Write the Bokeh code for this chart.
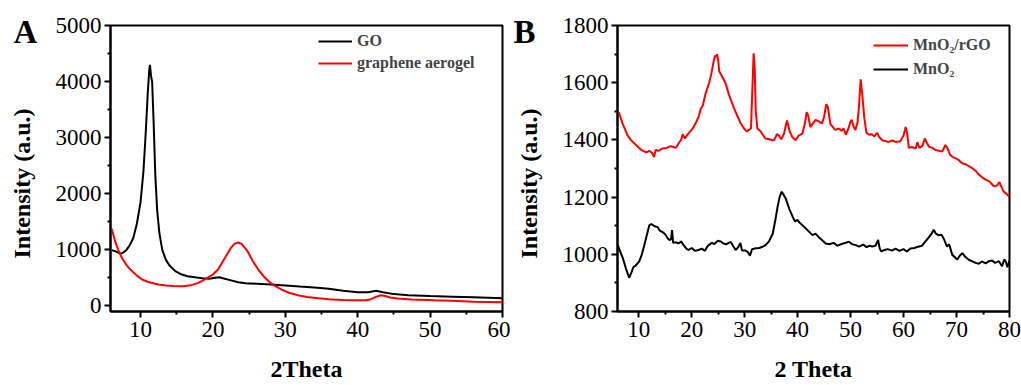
from bokeh.plotting import figure
from bokeh.layouts import row
from bokeh.models import Legend, LegendItem, FixedTicker, Title, Range1d
from bokeh.embed import file_html
from bokeh.resources import INLINE

# ---------------- Panel A data ----------------
go_x = [6.0, 6.5, 7.0, 7.4, 8.0, 8.5, 9.0, 9.5, 10.0, 10.4, 10.7, 11.0, 11.2, 11.3, 11.45, 11.6,
        11.8, 12.05, 12.3, 12.6, 13.0, 13.5, 14.0, 14.8, 15.5, 16.5, 17.5, 18.5, 19.5, 20.3,
        20.9, 21.5, 22.5, 23.5, 24.5, 26, 28, 30, 32, 34, 36, 38, 40, 41.5, 42.5, 43.5, 45,
        47, 50, 53, 56, 58, 60]
go_y = [995, 975, 945, 935, 990, 1080, 1210, 1470, 1850, 2400, 3050, 3800, 4200, 4300, 4100, 4000,
        3300, 2300, 1700, 1300, 1000, 820, 720, 620, 570, 530, 510, 495, 485, 500,
        510, 490, 455, 420, 405, 395, 380, 365, 345, 330, 305, 270, 245, 245, 270, 245, 210,
        190, 175, 165, 155, 145, 135]

ga_x = [6.0, 6.5, 7.0, 7.5, 8.0, 8.5, 9.0, 9.5, 10.2, 11, 12, 12.5, 13.5, 14.5, 15.8, 17, 18, 19,
        20, 20.7, 21.3, 22, 22.5, 23, 23.5, 24, 24.8, 25.5, 26.3, 27, 27.7, 28.5, 29.5, 30.5,
        31.9, 33, 34.6, 36, 37.9, 39.5, 41.1, 41.8, 42.5, 43.2, 43.8, 44.5, 45.5, 47.5, 50.6,
        53, 56, 58, 60]
ga_y = [1380, 1150, 970, 840, 740, 660, 600, 540, 470, 430, 395, 380, 365, 355, 350, 370, 410, 480,
        560, 650, 780, 930, 1040, 1110, 1130, 1100, 970, 800, 640, 530, 440, 360, 290, 235,
        185, 160, 135, 120, 105, 100, 100, 120, 160, 190, 175, 150, 130, 115, 100,
        90, 75, 70, 65]

a_xticks = [10, 20, 30, 40, 50, 60]
a_xminor = [5, 15, 25, 35, 45, 55]
a_yticks = [0, 1000, 2000, 3000, 4000, 5000]
a_yminor = [500, 1500, 2500, 3500, 4500]

# ---------------- Panel B data ----------------
rgo_x = [6.0, 6.3, 7.0, 7.9, 8.5, 9.5, 10.5, 11.4, 12.0, 12.5, 12.9, 13.2, 13.7, 14.5, 15.3, 16.0,
         16.4, 17.0, 17.6, 18.0, 18.3, 18.7, 19.3, 20.2, 20.8, 21.3, 21.7, 22.1, 22.6, 23.3, 23.7,
         24.1, 24.4, 24.6, 24.8, 25.0, 25.2, 25.8, 26.4, 27.0, 27.4, 28.0, 28.6, 29.2, 29.9, 30.4,
         30.8, 31.2, 31.5, 31.7, 31.9, 32.1, 32.4, 33.0, 33.9, 34.5, 35.2, 35.6, 36.1, 36.5, 36.9,
         37.4, 38.0, 38.5, 39.0, 39.6, 40.2, 40.9, 41.4, 41.7, 42.0, 42.4, 42.8, 43.4, 44.0, 44.6,
         45.0, 45.4, 45.7, 46.2, 47.1, 47.8, 48.3, 48.7, 49.1, 49.6, 50.0, 50.2, 50.6, 50.9, 51.3,
         51.6, 51.9, 52.2, 52.6, 53.0, 53.5, 54.0, 54.5, 55.0, 55.4, 56.0, 56.7, 57.2, 57.9, 58.5,
         59.4, 60.0, 60.4, 60.7, 61.0, 61.6, 62.3, 62.6, 63.0, 63.6, 64.0, 64.4, 64.8, 65.4, 66.0,
         66.7, 67.3, 67.9, 68.3, 68.8, 69.3, 69.8, 70.4, 71.0, 71.8, 72.9, 73.6, 74.2, 74.8, 75.4,
         76.2, 77.0, 77.6, 78.1, 78.5, 78.9, 79.4, 80.0]
rgo_y = [1500, 1494, 1455, 1416, 1400, 1382, 1365, 1356, 1362, 1355, 1340, 1365, 1362, 1370, 1372, 1378,
         1376, 1372, 1390, 1400, 1420, 1405, 1420, 1440, 1460, 1480, 1508, 1520, 1560, 1600, 1630,
         1670, 1695, 1690, 1700, 1680, 1640, 1620, 1598, 1560, 1540, 1510, 1485, 1460, 1440, 1430,
         1435, 1440, 1600, 1703, 1650, 1500, 1440, 1430, 1405, 1403, 1399, 1400, 1420, 1415, 1402,
         1420, 1468, 1430, 1410, 1399, 1415, 1422, 1460, 1497, 1485, 1445, 1455, 1470, 1465, 1458,
         1480, 1525, 1515, 1455, 1435, 1440, 1432, 1440, 1418, 1440, 1465, 1470, 1445, 1435, 1460,
         1520, 1612, 1560, 1475, 1425, 1418, 1420, 1412, 1425, 1410, 1399, 1395, 1393, 1398, 1393,
         1395, 1415, 1445, 1420, 1372, 1375, 1370, 1392, 1372, 1380, 1405, 1390, 1376, 1372, 1365,
         1362, 1359, 1382, 1370, 1347, 1340, 1336, 1330, 1319, 1314, 1302, 1292, 1279, 1270, 1262,
         1255, 1239, 1240, 1252, 1235, 1219, 1212, 1200]

mno2_x = [6.0, 6.5, 7.0, 7.6, 8.2, 8.6, 9.0, 9.4, 10.1, 10.6, 11.0, 11.5, 12.0, 12.4, 13.0, 13.6,
          14.0, 14.5, 15.0, 15.5, 15.8, 16.1, 16.3, 16.5, 17.0, 17.5, 18.0, 18.5, 19.0, 19.4, 20.0,
          20.6, 21.3, 21.9, 22.5, 23.0, 23.3, 23.8, 24.3, 24.9, 25.5, 26.0, 26.5, 27.0, 27.4, 27.8,
          28.3, 28.8, 29.2, 29.5, 30.2, 30.6, 31.0, 31.4, 32.1, 32.8, 33.5, 34.0, 34.6, 35.3, 35.8,
          36.2, 36.6, 37.0, 37.3, 37.8, 38.4, 39.1, 39.5, 40.0, 40.4, 41.3, 42.0, 42.8, 43.4, 44.0,
          44.6, 45.3, 46.0, 46.8, 47.5, 48.3, 49.0, 49.7, 50.3, 51.0, 51.6, 52.4, 53.0, 53.6, 54.1,
          54.7, 55.2, 55.5, 55.8, 56.4, 57.0, 57.8, 58.5, 59.2, 60.0, 60.6, 61.3, 62.0, 62.9, 63.5,
          64.1, 64.8, 65.3, 65.7, 66.1, 66.6, 67.2, 67.7, 68.2, 68.6, 69.2, 69.7, 70.1, 70.6, 71.1,
          71.6, 72.3, 73.0, 73.6, 74.2, 74.8, 75.5, 76.1, 76.7, 77.3, 78.0, 78.6, 79.0, 79.3, 79.6, 80.0]
mno2_y = [1035, 1010, 987, 950, 918, 935, 955, 960, 975, 1000, 1027, 1065, 1101, 1106, 1098, 1095,
          1082, 1078, 1070, 1055, 1050, 1052, 1085, 1040, 1042, 1038, 1045, 1032, 1020, 1015, 1022,
          1012, 1015, 1020, 1012, 1028, 1033, 1040, 1036, 1047, 1045, 1038, 1035, 1040, 1043, 1030,
          1015, 1025, 1040, 1013, 1013, 1008, 995, 1018, 1021, 1022, 1028, 1033, 1045, 1072, 1120,
          1164, 1200, 1219, 1210, 1193, 1160, 1130, 1115, 1120, 1110, 1095, 1082, 1067, 1072, 1060,
          1050, 1038, 1035, 1040, 1030, 1036, 1040, 1044, 1035, 1032, 1027, 1034, 1025, 1030, 1027,
          1030, 1050, 1020, 1010, 1015, 1018, 1013, 1020, 1012, 1018, 1010, 1020, 1022, 1027, 1030,
          1044, 1060, 1072, 1086, 1072, 1067, 1068, 1050, 1027, 1035, 998, 990, 981, 995, 1004,
          992, 981, 975, 970, 967, 975, 968, 976, 978, 970, 976, 958, 982, 975, 955, 978]

b_xticks = [10, 20, 30, 40, 50, 60, 70, 80]
b_xminor = [15, 25, 35, 45, 55, 65, 75]
b_yticks = [800, 1000, 1200, 1400, 1600, 1800]
b_yminor = [900, 1100, 1300, 1500, 1700]

SERIF = "Liberation Serif"
NBSP = "\u00a0"


def style(p, xt, xm, yt, ym, xlabel, ylabel):
    p.xaxis.ticker = FixedTicker(ticks=xt, minor_ticks=xm)
    p.yaxis.ticker = FixedTicker(ticks=yt, minor_ticks=ym)
    p.xgrid.visible = False
    p.ygrid.visible = False
    p.outline_line_color = "black"
    p.outline_line_width = 2
    p.outline_line_alpha = 1
    for ax in (p.xaxis, p.yaxis):
        ax.axis_line_width = 2
        ax.major_tick_line_width = 2
        ax.minor_tick_line_width = 2
        ax.major_tick_out = 6
        ax.major_tick_in = 0
        ax.minor_tick_out = 3
        ax.minor_tick_in = 0
        ax.major_label_text_font = SERIF
        ax.major_label_text_font_size = "23px"
        ax.major_label_text_color = "black"
        ax.axis_label_text_font = SERIF
        ax.axis_label_text_font_style = "bold"
        ax.axis_label_text_font_size = "24px"
        ax.axis_label_text_color = "black"
    p.xaxis.axis_label = xlabel
    # trailing no-break spaces nudge the centred vertical title slightly downwards
    p.yaxis.axis_label = ylabel + NBSP * 5
    p.xaxis.major_label_standoff = 4
    p.yaxis.major_label_standoff = 3
    p.xaxis.axis_label_standoff = 16
    p.yaxis.axis_label_standoff = 18


def panel_letter(text, offset):
    # panel letter as a title with a negative standoff so that it overlaps the frame corner
    return Title(text="\n" + text, align="left", vertical_align="bottom", offset=offset, standoff=-50,
                 text_line_height=0.6,
                 text_font=SERIF, text_font_style="bold", text_font_size="33px",
                 text_color="black")


# ---------------- Panel A ----------------
pa = figure(width=510, height=385, output_backend="svg", toolbar_location=None,
            x_range=Range1d(5.85, 60), y_range=Range1d(-100, 5000),
            min_border_left=110, min_border_right=8, min_border_top=20, min_border_bottom=74)
style(pa, a_xticks, a_xminor, a_yticks, a_yminor, "2Theta", "Intensity (a.u.)")
r_go = pa.line(go_x, go_y, line_color="black", line_width=2)
r_ga = pa.line(ga_x, ga_y, line_color="#ff0000", line_width=2)
leg_a = Legend(items=[LegendItem(label="GO", renderers=[r_go]),
                      LegendItem(label="graphene aerogel", renderers=[r_ga])],
               location=(208, 237), padding=0, margin=0, spacing=0,
               glyph_width=34, glyph_height=22, label_height=22, label_standoff=5,
               border_line_alpha=0, background_fill_alpha=0,
               label_text_font=SERIF, label_text_font_style="bold", label_text_font_size="16px")
pa.add_layout(leg_a)
pa.add_layout(panel_letter("A", -97), "above")

# ---------------- Panel B ----------------
pb = figure(width=511, height=385, output_backend="svg", toolbar_location=None,
            x_range=Range1d(6, 80), y_range=Range1d(800, 1800),
            min_border_left=107, min_border_right=12, min_border_top=25, min_border_bottom=69)
style(pb, b_xticks, b_xminor, b_yticks, b_yminor, "2 Theta", "Intensity (a.u.)")
r_rgo = pb.line(rgo_x, rgo_y, line_color="#ff0000", line_width=2)
r_mn = pb.line(mno2_x, mno2_y, line_color="black", line_width=2)
leg_b = Legend(items=[LegendItem(label="MnO₂/rGO", renderers=[r_rgo]),
                      LegendItem(label="MnO₂", renderers=[r_mn])],
               location=(256, 230), padding=0, margin=0, spacing=0,
               glyph_width=35, glyph_height=24, label_height=24, label_standoff=5,
               border_line_alpha=0, background_fill_alpha=0,
               label_text_font=SERIF, label_text_font_style="bold", label_text_font_size="16px")
pb.add_layout(leg_b)
pb.add_layout(panel_letter("B", -104), "above")

layout = row(pa, pb, spacing=0)
open("out.html", "w").write(file_html(layout, INLINE))
